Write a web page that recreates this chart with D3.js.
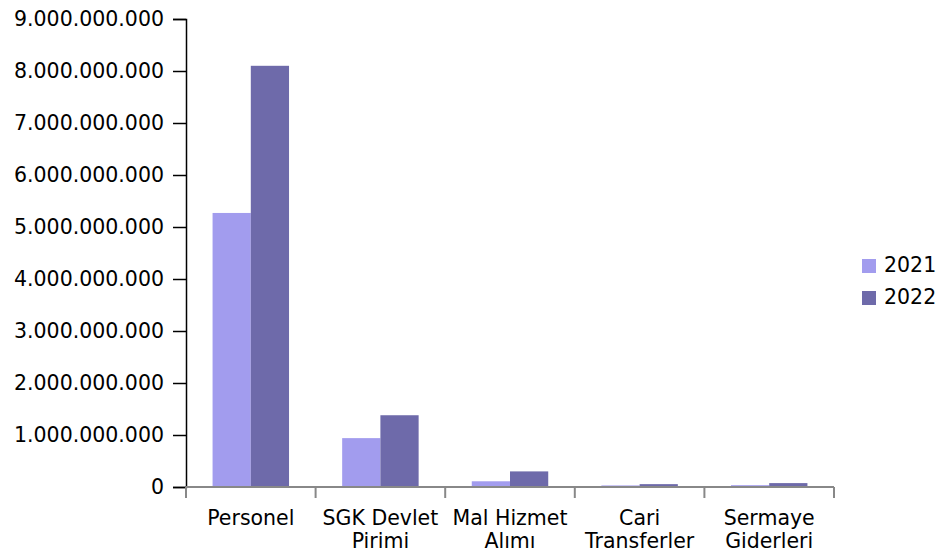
<!DOCTYPE html>
<html>
<head>
<meta charset="utf-8">
<script src="https://cdn.jsdelivr.net/npm/d3@7"></script>
<style>
  body { margin: 0; background: #fff; }
  text { font-family: "DejaVu Sans", sans-serif; }
</style>
</head>
<body>
<div id="chart"></div>
<script>
// data
var categories = [["Personel"], ["SGK Devlet", "Pirimi"], ["Mal Hizmet", "Alımı"], ["Cari", "Transferler"], ["Sermaye", "Giderleri"]];
var years = ["2021", "2022"];
var values2021 = [5270000000, 940000000, 110000000, 30000000, 35000000];
var values2022 = [8100000000, 1380000000, 300000000, 55000000, 75000000];
var yTicks = [0, 1e9, 2e9, 3e9, 4e9, 5e9, 6e9, 7e9, 8e9, 9e9];
var colors = ["#a29cee", "#6e6aaa"];

var width = 941, height = 555;
var margin = {top: 19, left: 186, right: 107, bottom: 68};
var innerW = width - margin.left - margin.right,
    innerH = height - margin.top - margin.bottom;
var fontSize = 20.5;

var svg = d3.select("#chart").append("svg")
    .attr("width", width)
    .attr("height", height);

var g = svg.append("g")
    .attr("transform", "translate(" + margin.left + "," + margin.top + ")");

var x = d3.scaleBand()
    .domain(d3.range(categories.length))
    .range([0, innerW])
    .paddingInner(0.41)
    .paddingOuter(0.205);

var xSub = d3.scaleBand()
    .domain(years)
    .range([0, x.bandwidth()]);

var y = d3.scaleLinear()
    .domain([0, 9e9])
    .range([innerH, 0]);

var fmt = function(d) {
  return d3.format(",")(d).replace(/,/g, ".");
};

// bars
var series = [values2021, values2022];
series.forEach(function(vals, si) {
  g.selectAll(".bar" + si)
    .data(vals)
    .enter().append("rect")
    .attr("x", function(d, i) { return x(i) + xSub(years[si]); })
    .attr("y", function(d) { return y(d); })
    .attr("width", xSub.bandwidth())
    .attr("height", function(d) { return innerH - y(d); })
    .attr("fill", colors[si]);
});

// y axis
var yAxis = g.append("g")
    .call(d3.axisLeft(y).tickValues(yTicks).tickFormat(fmt).tickSize(13).tickPadding(9));
yAxis.select(".domain").attr("stroke", "#000").attr("stroke-width", 1.5);
yAxis.selectAll(".tick line").attr("stroke", "#000").attr("stroke-width", 1.5);
yAxis.selectAll("text").attr("font-size", fontSize).attr("fill", "#000").attr("dy", "0.3em");

// x axis
var step = innerW / categories.length;
var xAxis = g.append("g").attr("transform", "translate(0," + innerH + ")");
xAxis.append("line")
    .attr("x1", 0).attr("x2", innerW)
    .attr("stroke", "#888").attr("stroke-width", 2);
xAxis.selectAll(".xtick")
    .data(d3.range(categories.length + 1))
    .enter().append("line")
    .attr("x1", function(d) { return d * step; })
    .attr("x2", function(d) { return d * step; })
    .attr("y1", 0).attr("y2", 11)
    .attr("stroke", "#888").attr("stroke-width", 2);

var labels = xAxis.selectAll(".xlabel")
    .data(categories)
    .enter().append("text")
    .attr("text-anchor", "middle")
    .attr("font-size", fontSize)
    .attr("fill", "#000")
    .attr("transform", function(d, i) { return "translate(" + (x(i) + x.bandwidth() / 2) + ",0)"; });
labels.selectAll("tspan")
    .data(function(d) { return d; })
    .enter().append("tspan")
    .attr("x", 0)
    .attr("y", function(d, i) { return 38 + i * 23; })
    .text(function(d) { return d; });

// legend
var legend = svg.append("g").attr("transform", "translate(862,259)");
years.forEach(function(yr, i) {
  var row = legend.append("g").attr("transform", "translate(0," + i * 32 + ")");
  row.append("rect").attr("width", 14).attr("height", 14).attr("fill", colors[i]);
  row.append("text").attr("x", 22).attr("y", 13).attr("font-size", fontSize).attr("fill", "#000").text(yr);
});
</script>
</body>
</html>
